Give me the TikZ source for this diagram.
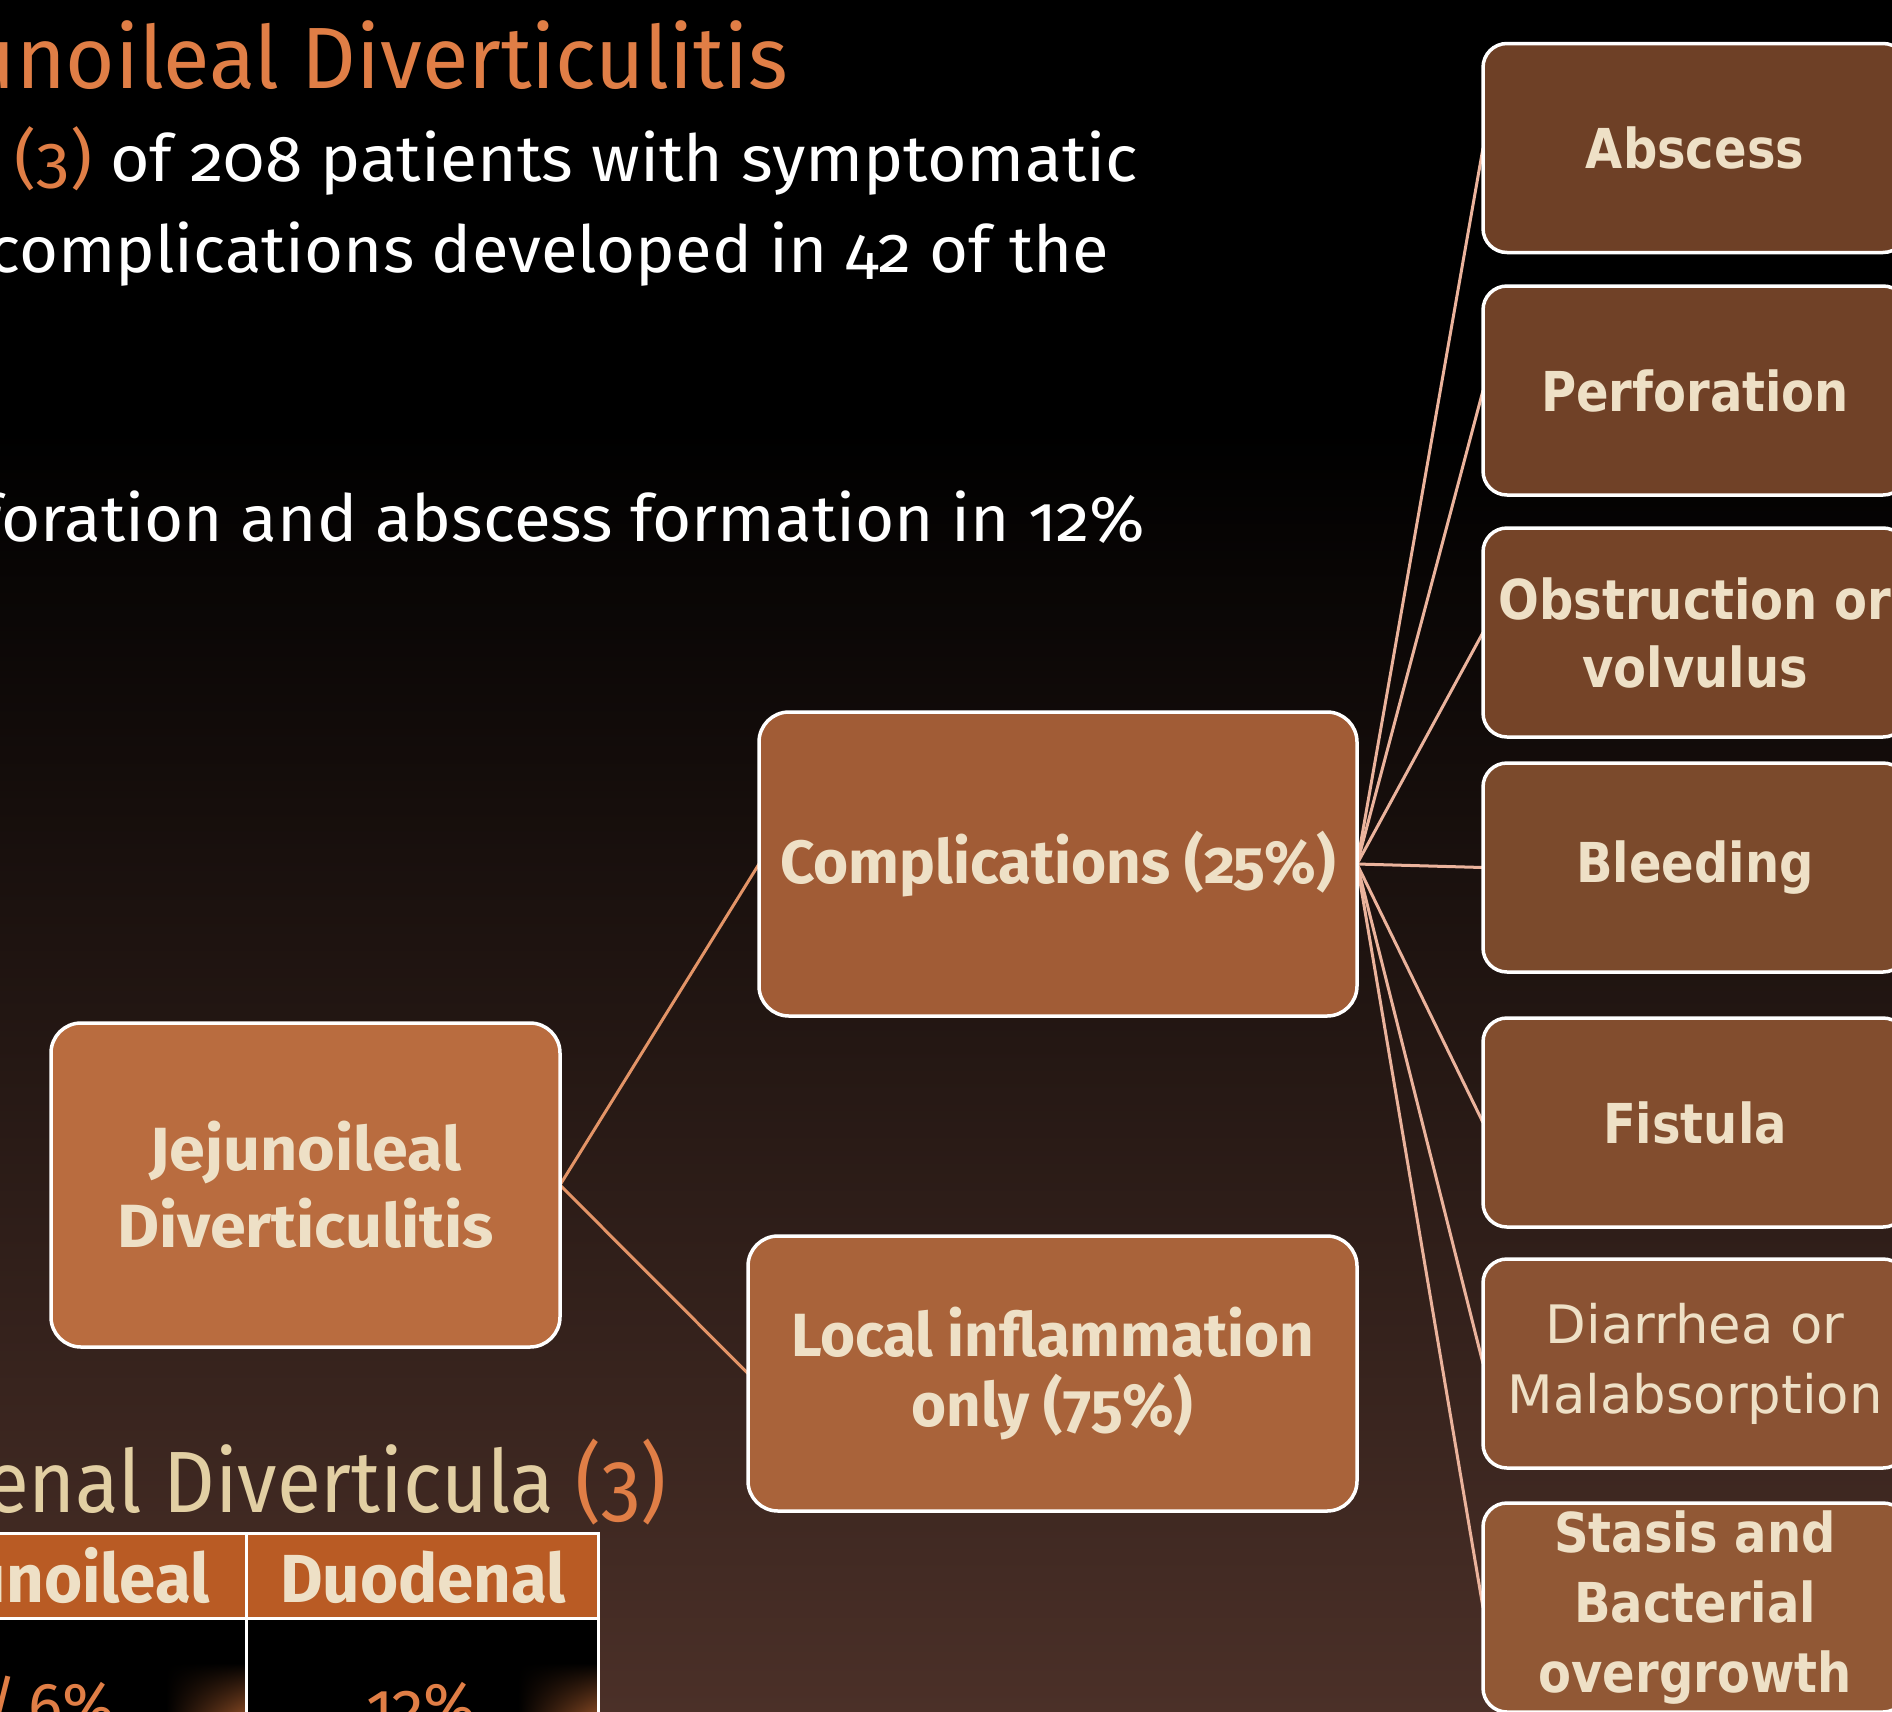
\documentclass[tikz,border=0pt]{standalone}
\usepackage{fontspec}
\usepackage{graphicx}
\usetikzlibrary{shadings}
\setmainfont{Fira Sans}[Numbers=OldStyle]
\newfontfamily\boxfont{DejaVu Sans}
\definecolor{orangeT}{HTML}{E07E46}
\definecolor{beige}{HTML}{EEE0C6}
\definecolor{beigeH}{HTML}{E2CFA3}
\definecolor{hdr}{HTML}{B95B24}
\definecolor{bgb}{HTML}{4B3028}
\definecolor{lnA}{HTML}{E39467}
\definecolor{lnB}{HTML}{EBB39C}
\definecolor{fJ}{HTML}{B96C3F}
\definecolor{fC}{HTML}{A15C36}
\definecolor{fL}{HTML}{A9633A}
\definecolor{f1}{HTML}{6E4026}
\definecolor{f2}{HTML}{704127}
\definecolor{f3}{HTML}{754428}
\definecolor{f4}{HTML}{7B4A2C}
\definecolor{f5}{HTML}{824D2E}
\definecolor{f6}{HTML}{8A5233}
\definecolor{f7}{HTML}{915835}
\definecolor{glow}{HTML}{7A4220}
\newlength\fitlen
\newcommand\fitref[3]{\settowidth\fitlen{#1}\pgfmathsetmacro\fitf{#2/\fitlen}\scalebox{\fitf}[1]{#3}}
\pgfdeclarelayer{back}
\pgfdeclarelayer{lines}
\pgfsetlayers{back,lines,main}
\begin{document}
\begin{tikzpicture}[x=1pt,y=-1pt,
  every node/.style={inner sep=0pt, outer sep=0pt},
  mainbox/.style={draw=white, line width=3.5pt, rounded corners=30pt, text=beige, align=center,
    font=\fontsize{61}{70}\selectfont\bfseries},
  sidebox/.style={draw=white, line width=3.5pt, rounded corners=24pt, minimum width=424pt,
    minimum height=209pt, text=beige, align=center, font=\boxfont\fontsize{55}{68}\selectfont\bfseries},
  linkA/.style={draw=lnA, line width=3pt},
  linkB/.style={draw=lnB, line width=3pt},
  bodytext/.style={text=white, font=\fontsize{65}{75}\selectfont},
]
\useasboundingbox (0,0) rectangle (1892,1711);
\clip (0,0) rectangle (1892,1711);
\begin{pgfonlayer}{back}
  \fill[black] (0,0) rectangle (1892,1711);
  \shade[top color=black, bottom color=bgb] (0,430) rectangle (1892,1711);
\end{pgfonlayer}

% top text
\node[anchor=base east, text=orangeT, font=\fontsize{87}{100}\selectfont] (title) at (788,88)
  {\fitref{Diverticulitis}{486}{Jejunoileal Diverticulitis}};
\node[anchor=base west, bodytext] (l2) at (15,181)
  {\fitref{(3) of 208 patients with symptomatic}{1123}{\textcolor{orangeT}{(3)} of 208 patients with symptomatic}};
\node[anchor=base east, bodytext] (l3) at (1109,272)
  {\fitref{developed in 42 of the}{677}{complications developed in 42 of the}};
\node[anchor=base east, bodytext] (l4) at (1145,541)
  {\fitref{and abscess formation in 12\%}{904}{Perforation and abscess formation in 12\%}};

% main boxes
\node[mainbox, fill=fJ, minimum width=509pt, minimum height=324pt] (jd) at (305.5,1185)
  {\fitref{Diverticulitis}{377}{Jejunoileal}\\[7pt]\fitref{Diverticulitis}{377}{Diverticulitis}};
\node[mainbox, fill=fC, minimum width=598pt, minimum height=304pt] (comp) at (1058,864)
  {\fitref{Complications (25\%)}{556}{Complications (25\%)}};
\node[mainbox, fill=fL, minimum width=609pt, minimum height=275pt] (local) at (1052.5,1373.5)
  {\fitref{Local inflammation}{523}{Local inflammation}\\\fitref{Local inflammation}{523}{only (75\%)}};

% side boxes
\node[sidebox, fill=f1] (abs) at (1695,148) {\fitref{Perforation}{308}{Abscess}};
\node[sidebox, fill=f2] (perf) at (1695,390.5) {\fitref{Perforation}{308}{Perforation}};
\node[sidebox, fill=f3] (obs) at (1695,632.5) {\fitref{Perforation}{308}{Obstruction or}\\\fitref{Perforation}{308}{volvulus}};
\node[sidebox, fill=f4] (bleed) at (1695,867.5) {\fitref{Perforation}{308}{Bleeding}};
\node[sidebox, fill=f5] (fist) at (1695,1122.5) {\fitref{Perforation}{308}{Fistula}};
\node[sidebox, fill=f6, font=\boxfont\fontsize{53}{70}\selectfont] (diar) at (1695,1363.5)
  {\fitref{Malabsorption}{375}{Diarrhea or}\\\fitref{Malabsorption}{375}{Malabsorption}};
\node[sidebox, fill=f7, font=\boxfont\fontsize{55}{70}\selectfont\bfseries] (stasis) at (1695,1607.5)
  {\fitref{Perforation}{308}{Stasis and}\\\fitref{Perforation}{308}{Bacterial}\\\fitref{Perforation}{308}{overgrowth}};

% connectors
\begin{pgfonlayer}{lines}
  \draw[linkA] (jd.east) -- (comp.west);
  \draw[linkA] (jd.east) -- (local.west);
  \foreach \t in {abs,perf,obs,bleed,fist,diar,stasis}
    \draw[linkB] (comp.east) -- (\t.west);
\end{pgfonlayer}

% bottom heading
\node[anchor=base east, text=beigeH, font=\fontsize{87}{100}\selectfont] (head2) at (667,1512)
  {\fitref{Diverticula}{391}{Duodenal Diverticula \textcolor{orangeT}{(3)}}};

% table
\fill[hdr] (-5,1533) rectangle (598,1618);
\fill[black] (-5,1618) rectangle (598,1720);
\shade[upper left=black, upper right=black, lower left=black, lower right=glow] (166,1663) rectangle (246,1711);
\shade[upper left=black, upper right=black, lower left=black, lower right=glow] (518,1663) rectangle (598,1711);
\draw[white, line width=3pt] (-5,1533) -- (598,1533) -- (598,1720);
\draw[white, line width=3pt] (-5,1618) -- (598,1618);
\draw[white, line width=3pt] (246,1533) -- (246,1720);
\node[anchor=base, text=beige, font=\fontsize{68}{80}\selectfont\bfseries] (thD) at (423,1602)
  {\fitref{Duodenal}{286}{Duodenal}};
\node[anchor=base east, text=beige, font=\fontsize{68}{80}\selectfont\bfseries] (thJ) at (210,1602)
  {\fitref{Duodenal}{286}{Jejunoileal}};
\node[anchor=base, text=orangeT, font=\fontsize{65}{75}\selectfont] (cD) at (421,1728)
  {\fitref{12\%}{110}{12\%}};
\node[anchor=base east, text=orangeT, font=\fontsize{65}{75}\selectfont] (cJ) at (115,1728)
  {\fitref{12\%}{110}{/\,6\%}};
\end{tikzpicture}
\end{document}
